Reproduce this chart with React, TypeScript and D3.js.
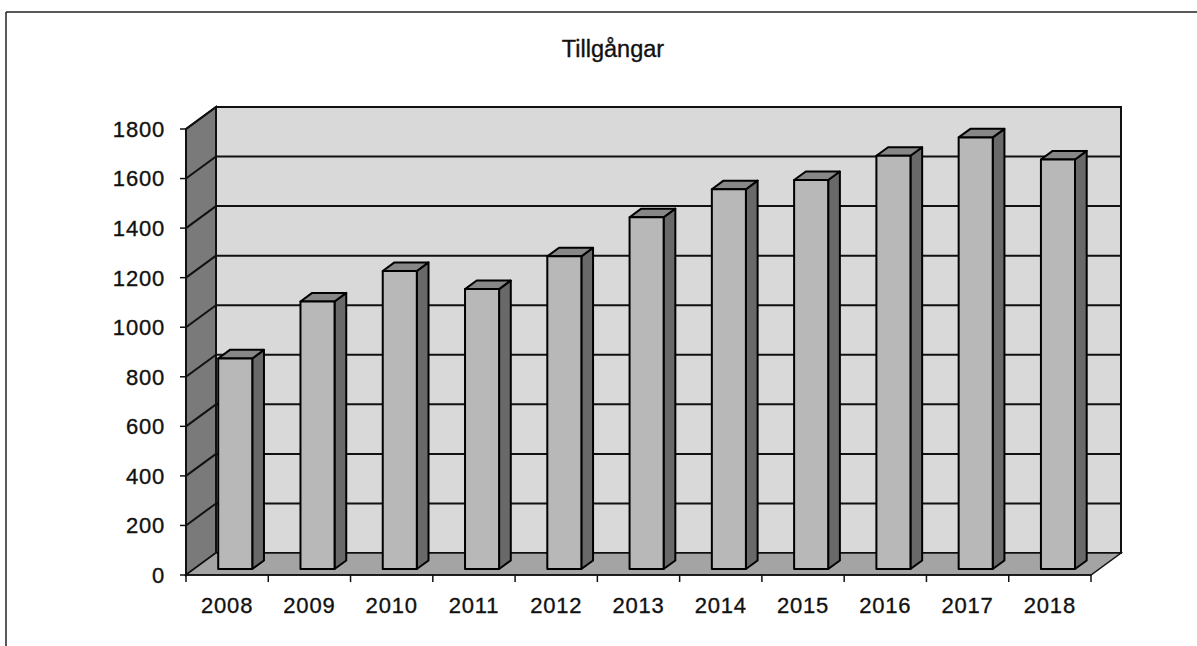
import React from "react";
import * as d3 from "d3";

const title = "Tillgångar";
const years = ["2008", "2009", "2010", "2011", "2012", "2013", "2014", "2015", "2016", "2017", "2018"];
const values = [850, 1080, 1203, 1130, 1262, 1420, 1533, 1570, 1668, 1742, 1653];
const yTicks = [0, 200, 400, 600, 800, 1000, 1200, 1400, 1600, 1800];

const W = 1197;
const H = 646;
const FONT = "'Liberation Sans', Arial, sans-serif";

export default function App() {
  const left = 186;
  const right = 1091;
  const depthX = 30;
  const depthY = -22;
  const x = d3.scaleBand<string>().domain(years).range([left, right]).padding(0);
  const y = d3.scaleLinear().domain([0, 1800]).range([575, 129]);
  const bw = x.bandwidth() * 0.414;
  const f1 = 0.27;
  const f2 = 0.39;
  const off1x = depthX * f1, off1y = depthY * f1;
  const bdx = depthX * f2, bdy = depthY * f2;

  const y0 = y(0);
  const yTop = y(1800);
  const poly = (pts: [number, number][]) => pts.map((p) => p.join(",")).join(" ");
  const textStyle = { stroke: "#111", strokeWidth: 0.35 };

  return (
    <svg width={W} height={H} style={{ position: "absolute", left: 0, top: 0, background: "#fff" }}>
      {/* outer frame */}
      <line x1={6} y1={12} x2={W} y2={12} stroke="#222" strokeWidth={1.5} />
      <line x1={6} y1={12} x2={6} y2={H} stroke="#222" strokeWidth={1.5} />
      <text x={613} y={57} textAnchor="middle" fontFamily={FONT} fontSize={23.5} fill="#111" style={textStyle}>
        {title}
      </text>

      {/* back wall */}
      <rect
        x={left + depthX}
        y={yTop + depthY}
        width={right - left}
        height={y0 - yTop}
        fill="#d9d9d9"
        stroke="#111"
        strokeWidth={2}
      />
      {/* side wall */}
      <polygon
        points={poly([
          [left, y0],
          [left, yTop],
          [left + depthX, yTop + depthY],
          [left + depthX, y0 + depthY],
        ])}
        fill="#7a7a7a"
        stroke="#111"
        strokeWidth={2}
      />
      {/* gridlines */}
      {yTicks.map((t) => (
        <g key={"g" + t}>
          <line x1={left} y1={y(t)} x2={left + depthX} y2={y(t) + depthY} stroke="#111" strokeWidth={2} />
          <line x1={left + depthX} y1={y(t) + depthY} x2={right + depthX} y2={y(t) + depthY} stroke="#111" strokeWidth={2} />
        </g>
      ))}
      {/* floor */}
      <polygon
        points={poly([
          [left, y0],
          [right, y0],
          [right + depthX, y0 + depthY],
          [left + depthX, y0 + depthY],
        ])}
        fill="#a4a4a4"
        stroke="#111"
        strokeWidth={1.5}
      />

      {/* bars */}
      {years.map((yr, i) => {
        const cx = (x(yr) as number) + x.bandwidth() / 2;
        const fx0 = cx - bw / 2 + off1x;
        const fx1 = fx0 + bw;
        const fb = y0 + off1y;
        const ft = y(values[i]) + off1y;
        return (
          <g key={yr} stroke="#000" strokeWidth={2} strokeLinejoin="round">
            <polygon
              points={poly([
                [fx1, fb],
                [fx1, ft],
                [fx1 + bdx, ft + bdy],
                [fx1 + bdx, fb + bdy],
              ])}
              fill="#696969"
            />
            <polygon
              points={poly([
                [fx0, ft],
                [fx1, ft],
                [fx1 + bdx, ft + bdy],
                [fx0 + bdx, ft + bdy],
              ])}
              fill="#878787"
            />
            <rect x={fx0} y={ft} width={bw} height={fb - ft} fill="#b8b8b8" />
          </g>
        );
      })}

      {/* axes */}
      <line x1={left} y1={y0} x2={right} y2={y0} stroke="#111" strokeWidth={1.5} />
      <line x1={left} y1={y0} x2={left} y2={yTop} stroke="#111" strokeWidth={1.5} />
      {yTicks.map((t) => (
        <g key={"t" + t}>
          <line x1={left - 6} y1={y(t)} x2={left} y2={y(t)} stroke="#111" strokeWidth={1.5} />
          <text
            x={165}
            y={y(t)}
            dy="0.36em"
            textAnchor="end"
            fontFamily={FONT}
            fontSize={22}
            letterSpacing={0.8}
            fill="#111"
            style={textStyle}
          >
            {t}
          </text>
        </g>
      ))}
      {years.map((yr) => (
        <line
          key={"xt" + yr}
          x1={x(yr) as number}
          y1={y0}
          x2={x(yr) as number}
          y2={y0 + 7}
          stroke="#111"
          strokeWidth={1.5}
        />
      ))}
      <line x1={right} y1={y0} x2={right} y2={y0 + 7} stroke="#111" strokeWidth={1.5} />
      {years.map((yr) => (
        <text
          key={"xl" + yr}
          x={(x(yr) as number) + x.bandwidth() / 2}
          y={613}
          textAnchor="middle"
          fontFamily={FONT}
          fontSize={22}
          letterSpacing={0.8}
          fill="#111"
          style={textStyle}
        >
          {yr}
        </text>
      ))}
    </svg>
  );
}
